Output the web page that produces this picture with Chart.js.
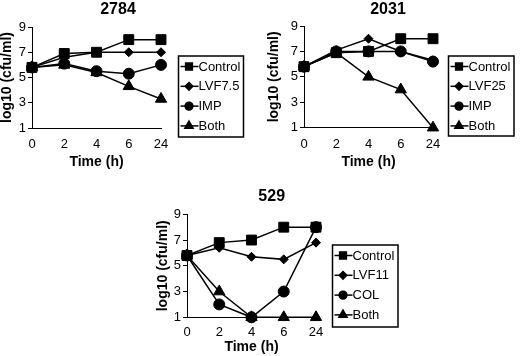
<!DOCTYPE html>
<html>
<head>
<meta charset="utf-8">
<script src="https://cdn.jsdelivr.net/npm/chart.js@4.4.1/dist/chart.umd.min.js"></script>
<style>
body { margin: 0; background: #fff; }
#wrap { position: relative; width: 520px; height: 356px; overflow: hidden; background: #fff; }
canvas { position: absolute; }
</style>
</head>
<body>
<div id="wrap">
  <canvas id="c2784"></canvas>
  <canvas id="c2031"></canvas>
  <canvas id="c529"></canvas>
</div>
<script>
// shared axis values
const timeLabels = ['0', '2', '4', '6', '24'];
const yTicks = [1, 3, 5, 7, 9];

// strain 2784
const names2784 = ['Control', 'LVF7.5', 'IMP', 'Both'];
const control2784 = [5.8, 6.9, 7.0, 8.0, 8.0];
const lvf2784 = [5.8, 6.6, 7.0, 7.0, 7.0];
const imp2784 = [5.8, 6.1, 5.5, 5.3, 6.0];
const both2784 = [5.8, 6.0, 5.4, 4.3, 3.3];

// strain 2031
const names2031 = ['Control', 'LVF25', 'IMP', 'Both'];
const control2031 = [5.8, 6.9, 7.0, 8.0, 8.0];
const lvf2031 = [5.8, 7.1, 8.0, 7.0, 6.3];
const imp2031 = [5.8, 7.0, 7.0, 7.0, 6.2];
const both2031 = [5.8, 6.9, 5.0, 4.0, 1.0];

// strain 529
const names529 = ['Control', 'LVF11', 'COL', 'Both'];
const control529 = [5.8, 6.8, 7.0, 8.0, 8.0];
const lvf529 = [5.8, 6.4, 5.7, 5.5, 6.8];
const col529 = [5.8, 2.0, 1.0, 3.0, 8.0];
const both529 = [5.8, 3.0, 1.0, 1.0, 1.0];

const markers = [
  { pointStyle: 'rect', pointRadius: 7, legendRadius: 4.8 },
  { pointStyle: 'rectRot', pointRadius: 4.5, legendRadius: 3.8 },
  { pointStyle: 'circle', pointRadius: 5.5, legendRadius: 3.9 },
  { pointStyle: 'triangle', pointRadius: 6.5, legendRadius: 4.8 }
];

const FONT = 'Arial, "Liberation Sans", sans-serif';
Chart.defaults.font.family = FONT;
Chart.defaults.color = '#000';

// title above the plot and the boxed legend on the right
const panelDecor = {
  id: 'panelDecor',
  afterDraw(chart, args, opts) {
    const ctx = chart.ctx;
    ctx.save();
    ctx.fillStyle = '#000';
    ctx.strokeStyle = '#000';
    ctx.font = 'bold 16px ' + FONT;
    ctx.textAlign = 'center';
    ctx.textBaseline = 'middle';
    ctx.fillText(opts.title, opts.titleX, opts.titleY);

    const b = opts.box;
    ctx.lineWidth = 1.5;
    ctx.strokeRect(b.x, b.y, b.w, b.h);
    ctx.font = '13px ' + FONT;
    ctx.textAlign = 'left';
    chart.data.datasets.forEach((ds, i) => {
      const y = b.y + 10.5 + i * 19.8;
      ctx.lineWidth = 1.5;
      ctx.beginPath();
      ctx.moveTo(b.x + 2, y);
      ctx.lineTo(b.x + 20, y);
      ctx.stroke();
      Chart.helpers.drawPoint(ctx, {
        pointStyle: ds.pointStyle,
        radius: markers[i].legendRadius,
        rotation: 0,
        borderWidth: 1
      }, b.x + 10.5, y);
      ctx.fillText(ds.label, b.x + 20, y + 0.5);
    });
    ctx.restore();
  }
};

function makePanel(id, p, title, names, series) {
  const canvas = document.getElementById(id);
  canvas.width = p.width;
  canvas.height = p.height;
  canvas.style.left = p.left + 'px';
  canvas.style.top = p.top + 'px';

  const datasets = series.map((vals, i) => ({
    label: names[i],
    data: vals,
    borderColor: '#000',
    backgroundColor: '#000',
    borderWidth: 1.5,
    pointStyle: markers[i].pointStyle,
    pointRadius: markers[i].pointRadius,
    pointBorderWidth: 1,
    fill: false,
    tension: 0,
    clip: false
  }));

  return new Chart(canvas, {
    type: 'line',
    data: { labels: timeLabels, datasets: datasets },
    options: {
      responsive: false,
      animation: false,
      events: [],
      layout: {
        padding: { top: p.padTop, right: p.width - p.yWidth - p.plotW, left: 0, bottom: 0 }
      },
      plugins: {
        legend: { display: false },
        tooltip: { enabled: false },
        panelDecor: { title: title, titleX: p.titleX, titleY: p.titleY, box: p.box }
      },
      scales: {
        x: {
          type: 'category',
          offset: false,
          afterFit: s => { s.height = p.xHeight; },
          border: { color: '#000', width: 1 },
          grid: { drawOnChartArea: false, drawTicks: false, offset: false },
          ticks: { font: { size: 13 }, padding: p.xTickPad + 4, maxRotation: 0, autoSkip: false },
          title: {
            display: true, text: 'Time (h)',
            font: { size: 14, weight: 'bold' },
            padding: { top: 0, bottom: p.xTitlePad }
          }
        },
        y: {
          min: 1, max: 9,
          afterFit: s => { s.width = p.yWidth; },
          afterBuildTicks: s => { s.ticks = yTicks.map(v => ({ value: v })); },
          border: { color: '#000', width: 1 },
          grid: { drawOnChartArea: false, color: '#000', tickLength: 4 },
          ticks: { font: { size: 13 }, padding: 2 },
          title: {
            display: true, text: 'log10 (cfu/ml)',
            font: { size: 14, weight: 'bold' },
            padding: { top: p.yTitlePad, bottom: 0 }
          }
        }
      }
    },
    plugins: [panelDecor]
  });
}

makePanel('c2784', {
  left: 0, top: 0, width: 260, height: 175,
  yWidth: 32, plotW: 129, padTop: 27, xHeight: 47,
  yTitlePad: -1.4, xTickPad: 5, xTitlePad: 4.6,
  titleX: 118, titleY: 10,
  box: { x: 178.5, y: 56, w: 65, h: 81 }
}, '2784', names2784, [control2784, lvf2784, imp2784, both2784]);

makePanel('c2031', {
  left: 264, top: 0, width: 256, height: 175,
  yWidth: 40, plotW: 129, padTop: 26, xHeight: 47.3,
  yTitlePad: 1.6, xTickPad: 5, xTitlePad: 4.6,
  titleX: 124, titleY: 10,
  box: { x: 184.5, y: 56, w: 65.5, h: 80 }
}, '2031', names2031, [control2031, lvf2031, imp2031, both2031]);

makePanel('c529', {
  left: 153, top: 187, width: 250, height: 169,
  yWidth: 34, plotW: 129, padTop: 27.3, xHeight: 38.7,
  yTitlePad: 1.6, xTickPad: 3, xTitlePad: 0,
  titleX: 118.7, titleY: 9.7,
  box: { x: 179.5, y: 58, w: 65.5, h: 82 }
}, '529', names529, [control529, lvf529, col529, both529]);
</script>
</body>
</html>
